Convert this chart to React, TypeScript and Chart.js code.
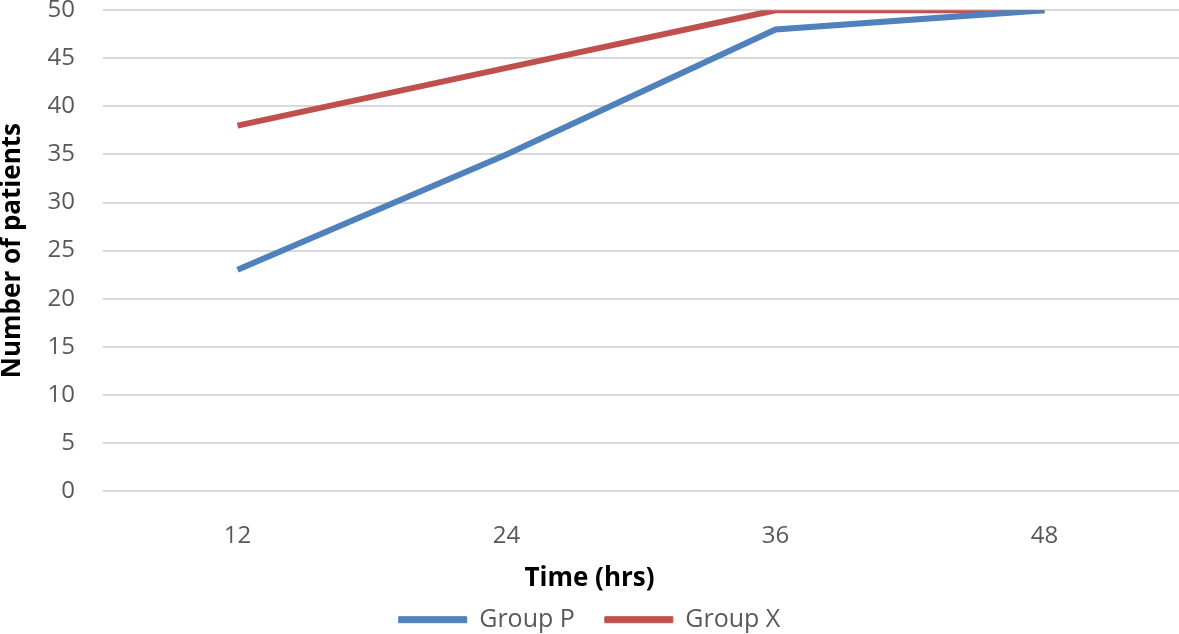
import React, { useEffect, useRef } from "react";
import { Chart, registerables } from "chart.js";

Chart.register(...registerables);

const categories = ["12", "24", "36", "48"];
const groupP = [23, 35, 48, 50];
const groupX = [38, 44, 50, 50];
const seriesNames = ["Group P", "Group X"];
const xTitle = "Time (hrs)";
const yTitle = "Number of patients";

const FONT = "'Open Sans', 'Noto Sans', sans-serif";

export default function App() {
  const ref = useRef<HTMLCanvasElement | null>(null);

  useEffect(() => {
    document.body.style.margin = "0";
    const ctx = ref.current!;
    const chart = new Chart(ctx, {
      type: "line",
      data: {
        labels: categories,
        datasets: [
          {
            label: seriesNames[0],
            data: groupP,
            borderColor: "#4F81BD",
            backgroundColor: "#4F81BD",
            borderWidth: 6,
            pointRadius: 0,
            tension: 0,
          },
          {
            label: seriesNames[1],
            data: groupX,
            borderColor: "#C0504D",
            backgroundColor: "#C0504D",
            borderWidth: 6,
            pointRadius: 0,
            tension: 0,
          },
        ],
      },
      options: {
        animation: false,
        responsive: false,
        maintainAspectRatio: false,
        layout: { autoPadding: false, padding: { top: 10, right: 0, bottom: 0, left: 0 } },
        plugins: {
          tooltip: { enabled: false },
          legend: {
            position: "bottom",
            maxHeight: 73,
            title: {
              display: true,
              text: xTitle,
              color: "#000",
              position: "center",
              font: { family: FONT, size: 26, weight: "bold" },
              padding: { top: 5, bottom: -20 },
            },
            labels: {
              color: "#595959",
              font: { family: FONT, size: 25 },
              boxWidth: 68,
              boxHeight: 6,
              padding: 30,
              generateLabels: (c: any) =>
                c.data.datasets.map((d: any, i: number) => ({
                  text: d.label,
                  fillStyle: d.borderColor,
                  strokeStyle: d.borderColor,
                  lineWidth: 1,
                  datasetIndex: i,
                  fontColor: "#595959",
                  hidden: false,
                })),
            },
          },
        },
        scales: {
          x: {
            offset: true,
            grid: { display: false, offset: true },
            border: { display: false },
            ticks: {
              color: "#595959",
              font: { family: FONT, size: 24 },
              padding: 23,
            },
            afterFit: (scale: any) => {
              scale.height = 70;
            },
          },
          y: {
            min: 0,
            max: 50,
            ticks: {
              stepSize: 5,
              color: "#595959",
              font: { family: FONT, size: 24, lineHeight: 0.85 },
              padding: 0,
            },
            grid: {
              color: "#D9D9D9",
              lineWidth: 2,
              drawTicks: true,
              tickLength: 28,
              tickColor: "rgba(0,0,0,0)",
            },
            border: { display: false },
            title: {
              display: true,
              text: yTitle,
              color: "#000",
              font: { family: FONT, size: 26, weight: "bold", lineHeight: 1 },
              padding: { top: 0, bottom: 0 },
            },
            afterFit: (scale: any) => {
              scale.width = 103;
            },
          },
        },
      },
    });
    return () => chart.destroy();
  }, []);

  return (
    <div style={{ position: "absolute", left: 0, top: 0, width: 1179, height: 634, background: "#fff" }}>
      <canvas ref={ref} width={1179} height={634} style={{ display: "block" }} />
    </div>
  );
}
